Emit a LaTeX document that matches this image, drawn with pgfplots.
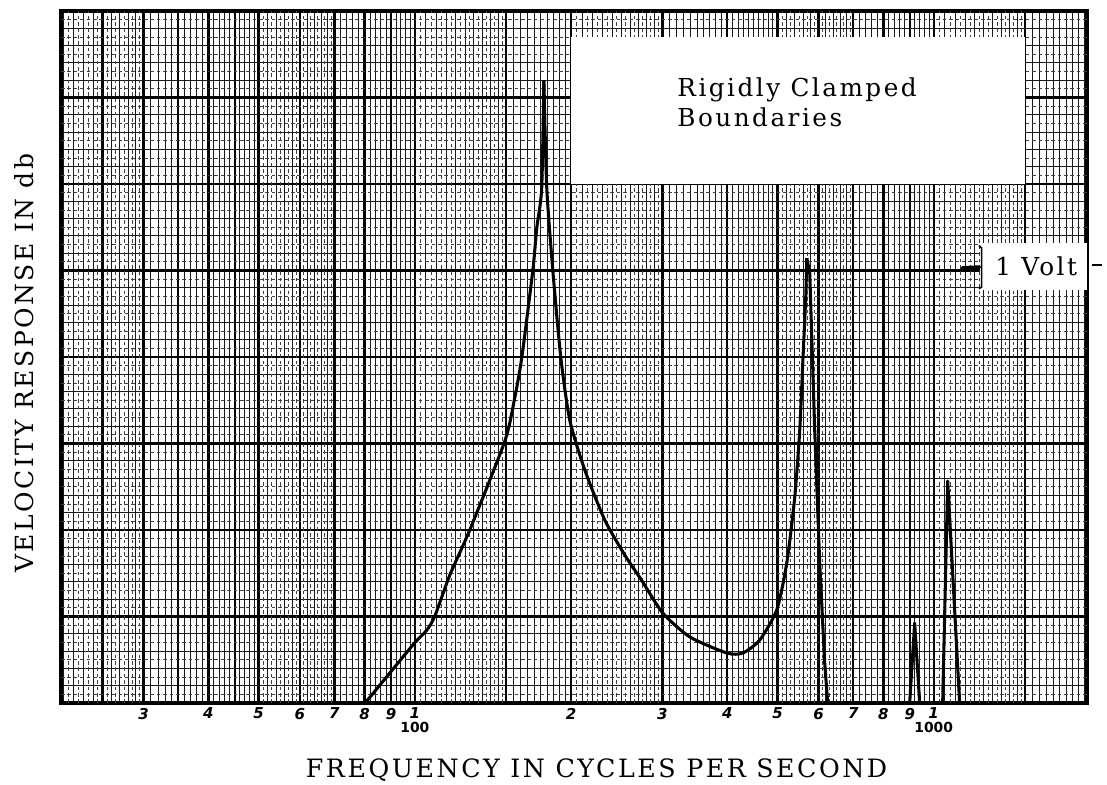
\documentclass[border=0pt]{standalone}
\usepackage{fontspec}
\setmainfont{DejaVu Serif}[LetterSpace=10]
\newfontfamily\tickfont{DejaVu Sans}
\usepackage{pgfplots}
\pgfplotsset{compat=1.18}

\pgfplotstableread{
f y
80 0
82 0.35
99.1 3.35
105.5 4.22
109.3 5.03
116.8 7.4
127.6 10.0
149.1 15.14
155.7 17.6
160.8 20.0
168.8 25.0
171.8 27.46
175.6 29.77
177.3 36.0
}\riseone

\pgfplotstableread{
f y
177.3 36.0
179.6 29.77
184.5 25.0
191.1 20.0
198.9 16.36
212.6 13.47
232.3 10.58
253.9 8.55
273.5 7.1
300.5 5.2
338.8 3.82
399.3 2.89
428.6 2.89
462.0 3.64
498.3 5.38
521.0 8.09
539.8 11.9
551.9 15.78
559.3 19.65
566.8 23.47
569.3 25.72
}\fallone

\pgfplotstableread{
f y
569.3 25.72
576.9 24.86
589.8 15.78
603.0 8.09
616.6 2.31
624.9 0
898.9 0
919.0 4.62
939.7 0
1040.6 0
1064.2 12.83
1122 0
}\tail

\begin{document}
\begin{tikzpicture}
\begin{axis}[
  xmode=log, xmin=20.8, xmax=1975, ymin=0, ymax=40,
  width=369.36pt, height=249.12pt, scale only axis,
  axis line style={line width=1.1pt},
  major tick length=0pt, minor tick length=0pt,
  xtick={25,30,35,40,45,50,60,70,80,90,100,150,200,300,400,500,600,700,800,900,1000,1500},
  xticklabels={,3,,4,,5,6,7,8,9,{1\\[-1.2pt]{\upshape\fontsize{5}{5}\selectfont 100}},,2,3,4,5,6,7,8,9,{1\\[-1.2pt]{\upshape\fontsize{5}{5}\selectfont 1000}},},
  xticklabel style={font=\tickfont\bfseries\itshape\fontsize{5.4}{6}\selectfont, align=center, inner sep=0pt, anchor=north, yshift=-1.6pt},
  minor xtick={21,22,...,49,52,54,...,98,105,110,...,195,210,220,...,490,520,540,...,980,1050,1100,...,1950},
  extra x ticks={20.5,21.5,...,29.5,51,53,...,69,102.5,107.5,...,147.5,205,215,...,295,510,530,...,690,1025,1075,...,1475},
  extra x tick labels={},
  extra x tick style={grid=major, major grid style={black!75, line width=0.3pt, dash pattern=on 1.3pt off 1.0pt}},
  ytick={5,10,...,35},
  yticklabels={},
  minor ytick={1,2,...,39},
  extra y ticks={0.5,1.5,...,39.5},
  extra y tick labels={},
  extra y tick style={grid=major, major grid style={black!75, line width=0.3pt, dash pattern=on 1.3pt off 1.0pt}},
  xmajorgrids, xminorgrids, ymajorgrids, yminorgrids,
  major grid style={black, line width=0.85pt},
  minor grid style={black!90, line width=0.35pt},
  xlabel={FREQUENCY IN CYCLES PER SECOND},
  xlabel style={at={(axis description cs:0.522,-0.107)}, anchor=base, font=\fontsize{9.1}{10}\selectfont},
  ylabel={VELOCITY RESPONSE IN db},
  ylabel style={at={(axis description cs:-0.0273,0.491)}, anchor=base, font=\fontsize{9}{10}\selectfont},
]
\fill[white] (axis cs:200,30) rectangle (axis cs:1500,38.5);
\node[anchor=base west, inner sep=0pt, font=\fontsize{8.9}{10}\selectfont] at (axis cs:320,35.03) {Rigidly Clamped};
\node[anchor=base west, inner sep=0pt, font=\fontsize{8.9}{10}\selectfont] at (axis cs:320,33.35) {Boundaries};
\fill[white] (axis cs:1227,23.9) rectangle (axis cs:1975,26.6);
\draw[line width=0.6pt] (axis cs:1222,26.45) -- (axis cs:1237,26.3) -- (axis cs:1237,24.05) -- (axis cs:1222,23.95);
\draw[line width=1.3pt, line cap=round] (axis cs:1135,25.15) -- (axis cs:1225,25.2);
\node[anchor=base west, inner sep=0pt, font=\fontsize{8.9}{10}\selectfont] at (axis cs:1311,24.74) {1 Volt};
\addplot[black, line width=1.1pt, smooth, tension=0.4] table[x=f, y=y] {\riseone};
\addplot[black, line width=1.1pt, smooth, tension=0.4] table[x=f, y=y] {\fallone};
\addplot[black, line width=1.1pt, line join=round] table[x=f, y=y] {\tail};
\coordinate (SW) at (rel axis cs:0,0);
\end{axis}
\draw[line width=0.6pt] ([shift={(371.2pt,157.7pt)}]SW) -- ([shift={(374.8pt,157.7pt)}]SW);
\pgfresetboundingbox
\path[use as bounding box] ([shift={(-21.96pt,-29.16pt)}]SW) rectangle ([shift={(376.56pt,253.08pt)}]SW);
\end{tikzpicture}
\end{document}
